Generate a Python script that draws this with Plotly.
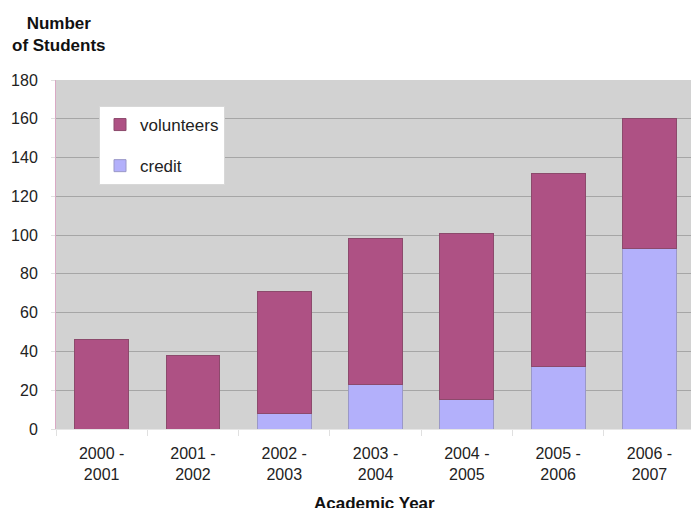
import plotly.graph_objects as go

categories = ["2000 -<br>2001", "2001 -<br>2002", "2002 -<br>2003", "2003 -<br>2004",
              "2004 -<br>2005", "2005 -<br>2006", "2006 -<br>2007"]
credit = [0, 0, 8, 23, 15, 32, 93]
volunteers = [46, 38, 63, 75, 86, 100, 67]
y_ticks = [0, 20, 40, 60, 80, 100, 120, 140, 160, 180]

FONT = "Liberation Sans, Arial, sans-serif"
VOL_COLOR = "#AE5184"
CRED_COLOR = "#B3B0FB"

fig = go.Figure()
fig.add_trace(go.Bar(
    x=categories, y=credit, name="credit", legendgroup="c", legendrank=2,
    marker=dict(color=CRED_COLOR, line=dict(color="#9a98c8", width=1)),
))
fig.add_trace(go.Bar(
    x=categories, y=volunteers, name="volunteers", legendgroup="v", legendrank=1,
    marker=dict(color=VOL_COLOR, line=dict(color="#8c4a6c", width=1)),
))

plot_w = 691 - 56
plot_h = 508 - 80 - 79

fig.update_layout(
    width=691, height=508,
    barmode="stack", bargap=0.41,
    margin=dict(l=56, r=0, t=80, b=79),
    paper_bgcolor="white", plot_bgcolor="#D2D2D2",
    font=dict(family=FONT, size=15, color="#222"),
    showlegend=True,
    legend=dict(
        x=(99 - 56) / plot_w, y=(429 - 106) / plot_h, xanchor="left", yanchor="top",
        bgcolor="white", bordercolor="#d8d8d8", borderwidth=1,
        traceorder="grouped", tracegroupgap=16,
        font=dict(size=17, family=FONT, color="#222"),
        itemwidth=30,
    ),
    xaxis=dict(
        range=[-0.5, 6.455],
        ticks="outside", tickson="boundaries", ticklen=6, tickcolor="#e0e0e0",
        showline=True, linecolor="#e6e6e6", linewidth=1,
        showgrid=False, tickfont=dict(size=16, family=FONT, color="#222"),
        ticklabelstandoff=10,
        fixedrange=True,
    ),
    yaxis=dict(
        range=[0, 180], tickvals=y_ticks,
        showgrid=True, gridcolor="#A6A6A6", gridwidth=1,
        ticks="outside", ticklen=4, tickcolor="#e0e0e0",
        showline=True, linecolor="#d9a9c4", linewidth=1,
        zeroline=False,
        tickfont=dict(size=16, family=FONT, color="#222"),
        ticklabelstandoff=10,
    ),
    annotations=[
        dict(text="<b>Number</b><br><b>of Students</b>",
             x=(59 - 56) / plot_w, y=(429 - 34) / plot_h,
             xref="paper", yref="paper", xanchor="center", yanchor="middle",
             showarrow=False, align="center",
             font=dict(size=17, family=FONT, color="#111")),
        dict(text="<b>Academic Year</b>",
             x=(374 - 56) / plot_w, y=(429 - 503) / plot_h,
             xref="paper", yref="paper", xanchor="center", yanchor="middle",
             showarrow=False,
             font=dict(size=17, family=FONT, color="#111")),
    ],
)

fig.write_html("out.html", config={"displayModeBar": False},
               post_script="document.body.style.margin='0';")
